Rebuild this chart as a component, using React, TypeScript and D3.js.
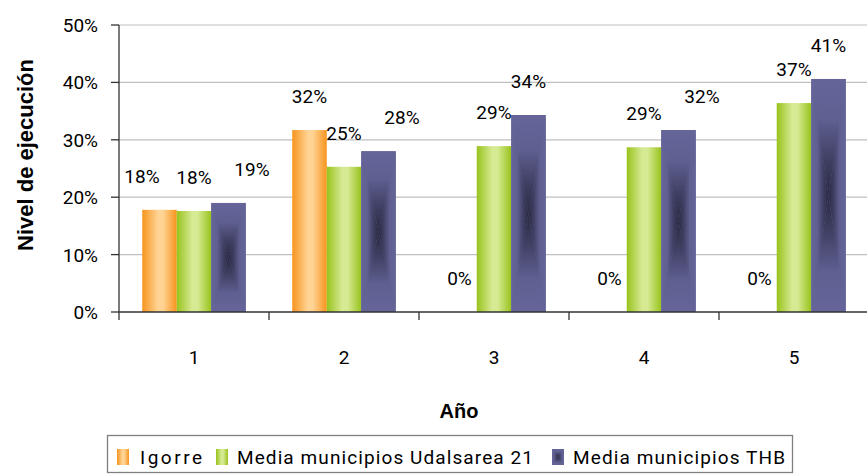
import * as d3 from 'd3';

const years = ['1', '2', '3', '4', '5'];
const seriesNames = ['Igorre', 'Media municipios Udalsarea 21', 'Media municipios THB'];
const igorre = [17.8, 31.7, 0, 0, 0];
const udalsarea = [17.6, 25.3, 28.9, 28.7, 36.4];
const thb = [19.0, 28.0, 34.3, 31.7, 40.6];
const labels = [
  ['18%', '32%', '0%', '0%', '0%'],
  ['18%', '25%', '29%', '29%', '37%'],
  ['19%', '28%', '34%', '32%', '41%'],
];
const yTicks = [0, 10, 20, 30, 40, 50];
const legendWidths = [62, 296, 212];

const W = 867;
const H = 475;
const margin = { top: 25, right: -2, bottom: 163, left: 119 };
const FONT = 'Roboto, "Liberation Sans", Arial, sans-serif';
const TITLE_FONT = '"Liberation Sans", Arial, sans-serif';

export default function App() {
  const values = [igorre, udalsarea, thb];

  const x = d3
    .scaleBand<string>()
    .domain(years)
    .range([margin.left, W - margin.right])
    .paddingInner(0);

  const xSub = d3
    .scaleBand<number>()
    .domain([0, 1, 2])
    .range([0, x.bandwidth()])
    .paddingInner(0)
    .paddingOuter(0.674);

  const y = d3
    .scaleLinear()
    .domain([0, 50])
    .range([H - margin.bottom, margin.top]);

  const y0 = y(0);
  const bw = xSub.bandwidth();

  // Label positions: above the bar, spread sideways where they collide
  const labelPos = years.map((yr, gi) => {
    const pts = values.map((vals, si) => ({
      x: (x(yr) as number) + (xSub(si) as number) + bw / 2,
      y: y(vals[gi]) - 27,
    }));
    for (let i = 1; i < pts.length; i++) {
      const a = pts[i - 1];
      const b = pts[i];
      if (Math.abs(a.y - b.y) < 20 && b.x - a.x < 52) {
        const need = 52 - (b.x - a.x);
        if (i === 1 && Math.abs(pts[2].y - b.y) < 20) {
          a.x -= need;
        } else if (i === 1) {
          a.x -= need / 2;
          b.x += need / 2;
        } else {
          b.x += need + 6;
        }
      }
    }
    return pts;
  });

  const colors = [
    { edge: '#f7941d', mid: '#ffd393' },
    { edge: '#99c31c', mid: '#d6ea94' },
  ];
  const purpleEdge = '#65659a';
  const purpleDark = '#2a2a42';

  const purpleBar = (bx: number, by: number, w: number, h: number, key: string) => {
    const cx = bx + w / 2;
    const cy = by + h / 2;
    const x1 = bx + w;
    const y1 = by + h;
    return (
      <g key={key}>
        <rect x={bx} y={by} width={w} height={h} fill={purpleEdge} />
        <polygon points={`${bx},${by} ${x1},${by} ${cx},${cy}`} fill="url(#pTop)" />
        <polygon points={`${bx},${y1} ${x1},${y1} ${cx},${cy}`} fill="url(#pBot)" />
        <polygon points={`${bx},${by} ${bx},${y1} ${cx},${cy}`} fill="url(#pLeft)" />
        <polygon points={`${x1},${by} ${x1},${y1} ${cx},${cy}`} fill="url(#pRight)" />
      </g>
    );
  };

  const pStops = (
    <>
      <stop offset="0" stopColor={purpleEdge} />
      <stop offset="0.35" stopColor="#5f5f91" />
      <stop offset="0.7" stopColor="#3f3f63" />
      <stop offset="1" stopColor={purpleDark} />
    </>
  );

  const legendItems = [
    { sx: 117, tx: 140 },
    { sx: 216, tx: 237 },
    { sx: 552, tx: 573 },
  ];

  return (
    <svg
      width={W}
      height={H}
      style={{ position: 'absolute', left: 0, top: 0, background: '#fff' }}
      fontFamily={FONT}
    >
      <defs>
        {colors.map((c, i) => (
          <linearGradient key={i} id={`g${i}`} x1="0" x2="1" y1="0" y2="0">
            <stop offset="0" stopColor={c.edge} />
            <stop offset="0.45" stopColor={c.mid} />
            <stop offset="0.6" stopColor={c.mid} />
            <stop offset="1" stopColor={c.edge} />
          </linearGradient>
        ))}
        <linearGradient id="pTop" x1="0" x2="0" y1="0" y2="1">{pStops}</linearGradient>
        <linearGradient id="pBot" x1="0" x2="0" y1="1" y2="0">{pStops}</linearGradient>
        <linearGradient id="pLeft" x1="0" x2="1" y1="0" y2="0">{pStops}</linearGradient>
        <linearGradient id="pRight" x1="1" x2="0" y1="0" y2="0">{pStops}</linearGradient>
      </defs>

      {/* grid lines */}
      {yTicks.slice(1).map((t) => (
        <line key={t} x1={margin.left} x2={W} y1={y(t)} y2={y(t)} stroke="#c0c0c0" strokeWidth={1.2} />
      ))}

      {/* bars */}
      {years.map((yr, gi) => (
        <g key={yr}>
          {values.map((vals, si) => {
            const bx = (x(yr) as number) + (xSub(si) as number);
            const by = y(vals[gi]);
            const h = y0 - by;
            if (h <= 0) return null;
            if (si === 2) return purpleBar(bx, by, bw, h, `p${gi}`);
            return <rect key={si} x={bx} y={by} width={bw} height={h} fill={`url(#g${si})`} />;
          })}
        </g>
      ))}

      {/* y axis */}
      <line x1={margin.left} x2={margin.left} y1={y(50)} y2={y0 + 8} stroke="#333" strokeWidth={1.3} />
      {yTicks.map((t) => (
        <g key={t}>
          <line x1={margin.left - 8} x2={margin.left} y1={y(t)} y2={y(t)} stroke="#333" strokeWidth={1.3} />
          <text x={98} y={y(t) + 7} textAnchor="end" fontSize={19} fill="#000">
            {t}%
          </text>
        </g>
      ))}

      {/* x axis */}
      <line x1={margin.left} x2={W} y1={y0} y2={y0} stroke="#333" strokeWidth={1.3} />
      {years.map((yr) => (
        <g key={yr}>
          <line
            x1={(x(yr) as number) + x.bandwidth()}
            x2={(x(yr) as number) + x.bandwidth()}
            y1={y0}
            y2={y0 + 8}
            stroke="#333"
            strokeWidth={1.3}
          />
          <text x={(x(yr) as number) + x.bandwidth() / 2} y={364} textAnchor="middle" fontSize={19}>
            {yr}
          </text>
        </g>
      ))}

      {/* data labels */}
      {labelPos.map((pts, gi) =>
        pts.map((p, si) => (
          <text key={`${gi}-${si}`} x={p.x} y={p.y} textAnchor="middle" fontSize={19}>
            {labels[si][gi]}
          </text>
        ))
      )}

      {/* axis titles */}
      <text
        transform={`translate(33,155) rotate(-90)`}
        textAnchor="middle"
        fontSize={22}
        fontWeight="bold"
        fontFamily={TITLE_FONT}
      >
        Nivel de ejecución
      </text>
      <text x={459} y={418} textAnchor="middle" fontSize={20} fontWeight="bold" fontFamily={TITLE_FONT}>
        Año
      </text>

      {/* legend */}
      <rect x={107.5} y={435.5} width={685} height={37} fill="#fff" stroke="#7f7f7f" strokeWidth={1.3} />
      {seriesNames.map((name, i) => {
        const it = legendItems[i];
        return (
          <g key={name}>
            {i < 2 ? (
              <rect x={it.sx} y={449} width={12} height={16} fill={`url(#g${i})`} />
            ) : (
              purpleBar(it.sx, 449, 12, 16, 'lp')
            )}
            <text x={it.tx} y={464} fontSize={19} textLength={legendWidths[i]} lengthAdjust="spacing">
              {name}
            </text>
          </g>
        );
      })}
    </svg>
  );
}
